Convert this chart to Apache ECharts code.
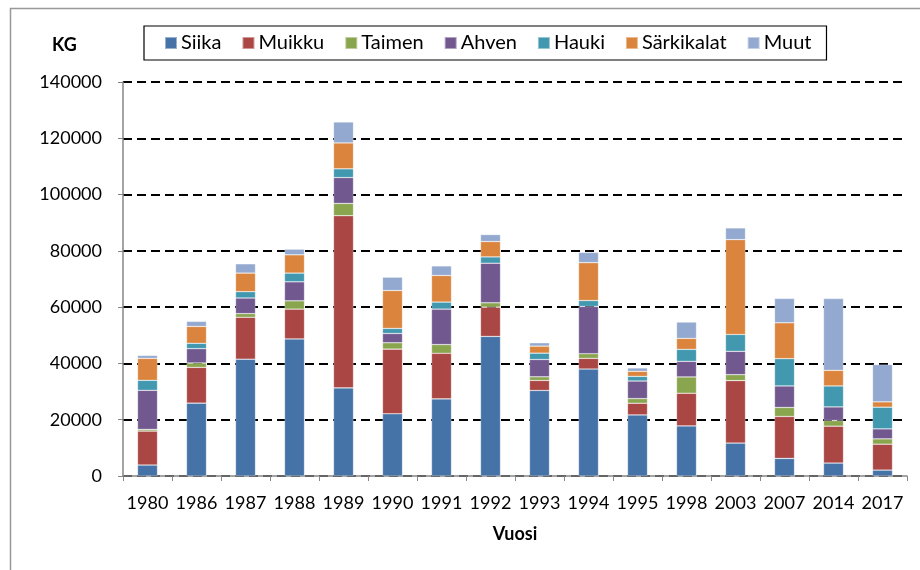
<!DOCTYPE html>
<html>
<head>
<meta charset="utf-8">
<script src="https://cdn.jsdelivr.net/npm/echarts@6/dist/echarts.min.js"></script>
<style>
  html, body { margin: 0; padding: 0; background: #fff; }
  #chart { width: 920px; height: 570px; }
</style>
</head>
<body>
<div id="chart"></div>
<script>
// vuodet
var years = ['1980', '1986', '1987', '1988', '1989', '1990', '1991', '1992', '1993', '1994', '1995', '1998', '2003', '2007', '2014', '2017'];

// saaliit lajeittain (kg)
var siika      = [3900, 25900, 41500, 48700, 31300, 22100, 27400, 49600, 30400, 38000, 21700, 17800, 11700, 6250, 4600, 2100];
var muikku     = [12050, 12700, 14900, 10600, 61200, 23000, 16200, 10400, 3550, 3800, 4150, 11600, 22200, 14900, 13100, 9200];
var taimen     = [600, 1550, 1300, 2950, 4350, 2250, 3100, 1550, 1300, 1650, 1650, 5800, 2100, 3200, 2000, 1900];
var ahven      = [13900, 5100, 5550, 6750, 9200, 3300, 12600, 14050, 6150, 16800, 6250, 5550, 8300, 7650, 4850, 3550];
var hauki      = [3550, 1900, 2250, 3100, 3100, 1800, 2500, 2250, 2250, 2100, 1650, 4250, 6000, 9700, 7450, 7700];
var sarkikalat = [7800, 6000, 6600, 6500, 9200, 13450, 9450, 5450, 2500, 13450, 1800, 3900, 33700, 12750, 5550, 1900];
var muut       = [1050, 1800, 3300, 2000, 7450, 4750, 3400, 2500, 1200, 3650, 1200, 5800, 4150, 8650, 25500, 13250];

var seriesNames = ['Siika', 'Muikku', 'Taimen', 'Ahven', 'Hauki', 'Särkikalat', 'Muut'];
var seriesData = [siika, muikku, taimen, ahven, hauki, sarkikalat, muut];
var colors = ['#4572A7', '#AA4643', '#89A54E', '#71588F', '#4198AF', '#DB843D', '#93A9CF'];

var font = 'Lato, "Open Sans", sans-serif';

var myChart = echarts.init(document.getElementById('chart'));

var series = [];
for (var i = 0; i < seriesNames.length; i++) {
	series.push({
		name: seriesNames[i],
		type: 'bar',
		stack: 'kg',
		barWidth: 20,
		data: seriesData[i],
		itemStyle: {
			color: colors[i],
			borderColor: 'rgba(255,255,255,0.45)',
			borderWidth: 0.6
		}
	});
}

var option = {
	animation: false,
	color: colors,
	textStyle: { fontFamily: font },
	graphic: [
		{ // ulkokehys
			type: 'rect',
			left: 8,
			top: 6,
			shape: { width: 1000, height: 1000 },
			style: { fill: 'none', stroke: '#999', lineWidth: 1.5 },
			silent: true
		},
		{
			type: 'text',
			left: 52,
			top: 36,
			style: { text: 'KG', font: 'bold 18px ' + font, fill: '#000' }
		}
	],
	legend: {
		left: 144,
		top: 26,
		padding: [7, 15, 7, 20],
		borderColor: '#000',
		borderWidth: 1.2,
		itemWidth: 12,
		itemHeight: 12,
		itemGap: 20,
		icon: 'rect',
		textStyle: { fontSize: 20, color: '#000', fontFamily: font, padding: [0, 0, 0, -1] },
		data: seriesNames
	},
	grid: {
		left: 123,
		right: 13,
		top: 82,
		height: 394,
		containLabel: false
	},
	xAxis: {
		type: 'category',
		data: years,
		name: 'Vuosi',
		nameLocation: 'middle',
		nameGap: 49,
		nameTextStyle: { fontSize: 18, fontWeight: 'bold', color: '#000' },
		axisLine: { lineStyle: { color: '#868686', width: 1.5 } },
		axisTick: { show: true, length: 5, lineStyle: { color: '#868686' } },
		axisLabel: { fontSize: 18, color: '#000', margin: 18, interval: 0 }
	},
	yAxis: {
		type: 'value',
		min: 0,
		max: 140000,
		interval: 20000,
		axisLine: { show: true, lineStyle: { color: '#868686', width: 1.5 } },
		axisTick: { show: true, length: 5, lineStyle: { color: '#868686' } },
		axisLabel: { fontSize: 18, color: '#000', margin: 21, formatter: function (v) { return String(v); } },
		splitLine: { lineStyle: { color: '#000', type: [9, 5], width: 2 } }
	},
	series: series
};

myChart.setOption(option);
</script>
</body>
</html>
